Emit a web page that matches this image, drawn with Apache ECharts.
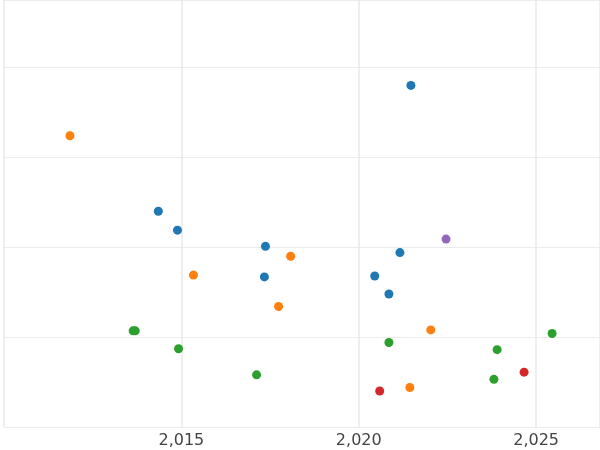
<!DOCTYPE html>
<html>
<head>
<meta charset="utf-8">
<script src="https://cdn.jsdelivr.net/npm/echarts@6/dist/echarts.min.js"></script>
<style>html,body{margin:0;padding:0;background:#fff}#chart{width:600px;height:450px}</style>
</head>
<body>
<div id="chart"></div>
<script>
var blue = [[2021.47,3.80],[2014.35,2.40],[2014.89,2.19],[2017.37,2.01],[2017.34,1.67],[2020.45,1.68],[2021.16,1.94],[2020.85,1.48]];
var orange = [[2011.86,3.24],[2015.34,1.69],[2018.08,1.90],[2017.74,1.34],[2022.03,1.08],[2021.44,0.44]];
var green = [[2013.64,1.07],[2013.70,1.07],[2014.92,0.87],[2017.12,0.58],[2020.85,0.94],[2023.90,0.86],[2023.81,0.53],[2025.45,1.04]];
var red = [[2020.59,0.40],[2024.66,0.61]];
var purple = [[2022.46,2.09]];
var colors = ['#1f77b4','#ff7f0e','#2ca02c','#d62728','#9467bd'];

var chart = echarts.init(document.getElementById('chart'));
function s(d, c) {
  return {type:'scatter', data:d, symbolSize:9, itemStyle:{color:c, opacity:1}};
}
chart.setOption({
  animation:false,
  grid:{left:4, right:0, top:0, bottom:23},
  xAxis:{
    type:'value', min:2010, max:2026.8, interval:5,
    axisLine:{show:false}, axisTick:{show:false},
    axisLabel:{showMinLabel:false, showMaxLabel:false, color:'#444', fontSize:16, fontFamily:'DejaVu Sans', margin:6},
    splitLine:{lineStyle:{color:'#e8e8e8', width:1.5}}
  },
  yAxis:{
    type:'value', min:0, max:4.75, interval:1,
    axisLine:{show:false}, axisTick:{show:false}, axisLabel:{show:false},
    splitLine:{lineStyle:{color:'#ebebeb'}}
  },
  series:[s(blue,colors[0]), s(orange,colors[1]), s(green,colors[2]), s(red,colors[3]), s(purple,colors[4])]
});
</script>
</body>
</html>
